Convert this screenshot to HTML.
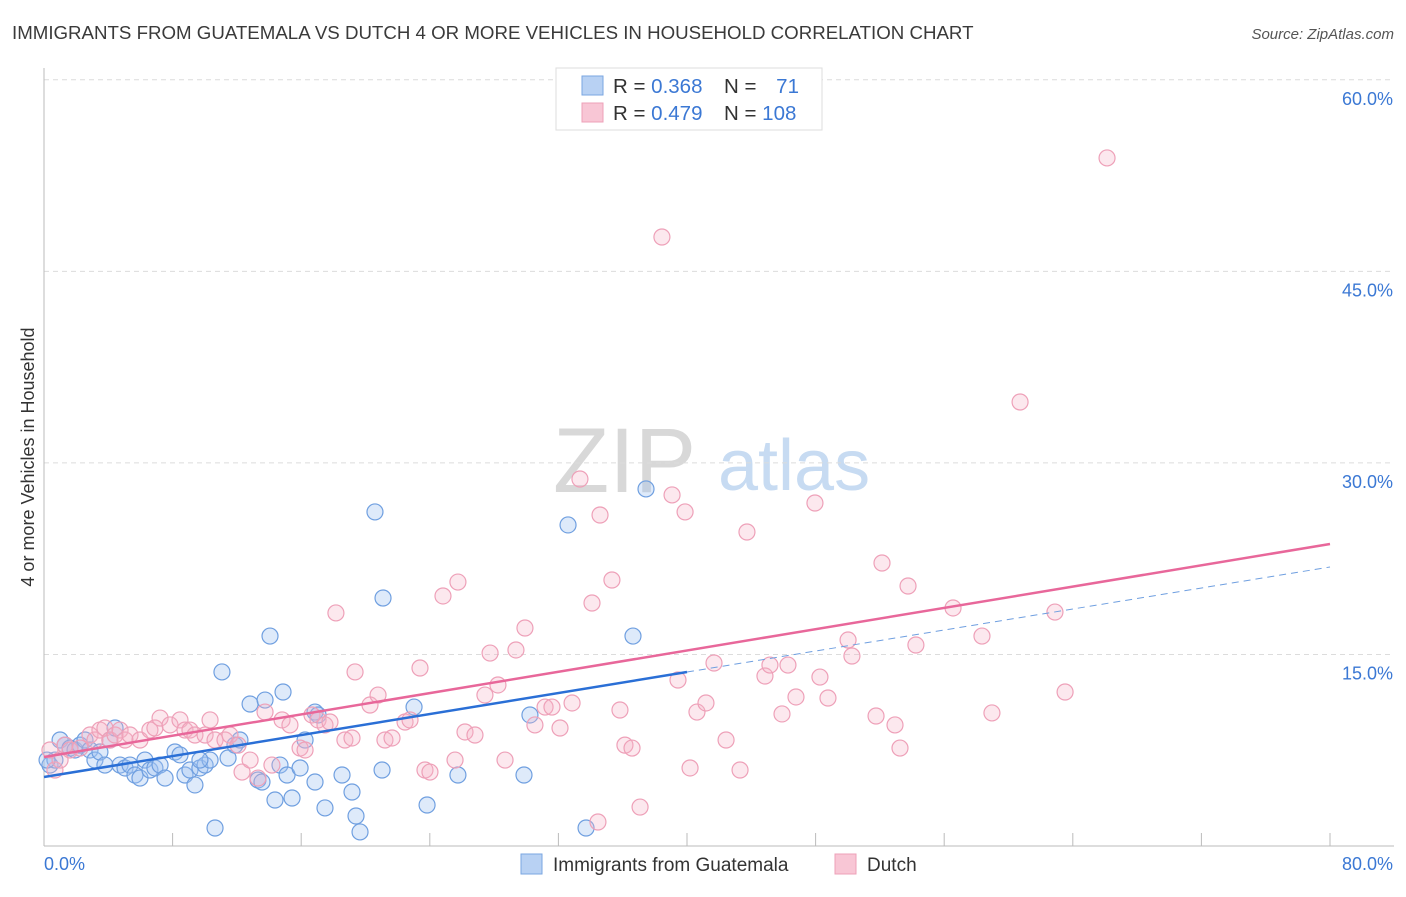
<!DOCTYPE html>
<html><head><meta charset="utf-8"><style>
body{margin:0;background:#fff;font-family:"Liberation Sans",sans-serif}
svg text{font-family:"Liberation Sans",sans-serif}
</style></head><body>
<svg id="chart" width="1406" height="892" xmlns="http://www.w3.org/2000/svg">
<text x="12" y="39" font-size="18.7" fill="#3a3a3a">IMMIGRANTS FROM GUATEMALA VS DUTCH 4 OR MORE VEHICLES IN HOUSEHOLD CORRELATION CHART</text>
<text x="1394" y="39" font-size="15" fill="#555" font-style="italic" text-anchor="end">Source: ZipAtlas.com</text>
<g>
<text x="553" y="492" font-size="92" fill="#d8d8d8" font-family="Liberation Serif">ZIP</text>
<text x="718" y="490" font-size="72" fill="#c7dbf2">atlas</text>
</g>
<g id="grid"></g>
<g id="axes"></g>
<g id="marks"></g>
<g id="lines"></g>
<text transform="translate(34,457) rotate(-90)" font-size="18" fill="#333" text-anchor="middle">4 or more Vehicles in Household</text>
<g>
<rect x="556" y="68" width="266" height="62" fill="#fff" stroke="#ddd"/>
<rect x="582" y="76" width="21" height="19" fill="#b8d1f3" stroke="#7aa6e0"/>
<rect x="582" y="103" width="21" height="19" fill="#f8c6d5" stroke="#eea0b8"/>
<text x="613" y="93" font-size="20.5" fill="#333">R = <tspan fill="#3b78d4">0.368</tspan></text>
<text x="724" y="93" font-size="20.5" fill="#333">N = <tspan fill="#3b78d4" dx="14">71</tspan></text>
<text x="613" y="120" font-size="20.5" fill="#333">R = <tspan fill="#3b78d4">0.479</tspan></text>
<text x="724" y="120" font-size="20.5" fill="#333">N = <tspan fill="#3b78d4">108</tspan></text>
</g>
<g>
<rect x="521" y="854" width="21" height="20" fill="#b8d1f3" stroke="#7aa6e0"/>
<text x="553" y="871" font-size="19" fill="#333">Immigrants from Guatemala</text>
<rect x="835" y="854" width="21" height="20" fill="#f8c6d5" stroke="#eea0b8"/>
<text x="867" y="871" font-size="19" fill="#333">Dutch</text>
</g>
</svg>
<script>
const yTicks=[15,30,45,60];
const yTickLabels=["15.0%","30.0%","45.0%","60.0%"];
const xTicks=[0,8,16,24,32,40,48,56,64,72,80];
const xEndLabels=["0.0%","80.0%"];
const blueX=[0.37,0.68,1.0,1.31,1.62,1.93,2.24,2.55,2.86,3.17,3.48,3.79,4.1,4.42,4.73,5.04,5.35,5.66,5.97,6.28,6.59,6.9,7.22,7.53,8.15,8.46,8.77,9.08,9.39,9.7,10.02,10.33,10.64,11.07,11.45,11.88,12.19,12.82,13.31,13.56,13.75,14.06,14.37,14.68,14.87,15.12,15.43,15.93,16.24,16.86,17.05,17.48,18.54,19.16,19.41,19.66,20.59,21.03,21.09,23.02,23.83,25.75,29.86,30.23,32.6,33.72,36.64,37.45,16.86,9.7,0.19];
const blueY=[6.34,6.73,8.3,7.9,7.67,7.52,7.9,8.3,7.52,6.73,7.36,6.34,8.3,9.24,6.34,6.11,6.34,5.56,5.32,6.73,5.95,6.11,6.34,5.32,7.36,7.13,5.56,5.95,4.78,6.11,6.34,6.73,1.41,13.63,6.89,7.9,8.3,11.12,5.17,5.01,11.43,16.44,3.6,6.34,12.06,5.56,3.76,6.11,8.3,10.49,10.26,2.98,5.56,4.23,2.35,1.1,26.16,5.95,19.42,10.88,3.21,5.56,5.56,10.26,25.14,1.41,16.44,27.96,5.01,6.73,6.73];
const pinkX=[0.37,0.68,1.0,1.31,1.62,2.24,2.86,3.17,3.48,3.79,4.1,4.42,4.73,5.04,5.35,5.97,6.59,6.9,7.22,7.84,8.46,8.77,9.08,9.39,10.02,10.33,10.64,11.26,11.57,12.07,12.32,12.82,13.31,13.75,14.18,14.81,15.3,15.93,16.24,16.67,17.05,17.48,17.79,18.16,18.72,19.16,19.35,20.28,20.78,21.21,21.65,22.46,22.77,23.39,23.7,24.01,24.82,25.57,25.75,26.19,26.81,27.43,27.75,28.24,28.68,29.36,29.92,30.54,31.17,31.6,32.1,32.85,33.34,34.09,34.59,35.33,35.83,36.14,36.58,37.08,34.46,38.44,39.07,39.44,39.88,40.19,40.62,41.18,41.68,42.43,43.3,43.73,44.85,45.16,45.91,46.28,46.78,47.96,48.27,48.77,50.02,50.26,51.76,52.13,52.94,53.25,53.75,54.24,56.55,58.35,58.97,60.72,62.89,63.52,66.13];
const pinkY=[7.52,5.95,6.73,7.9,7.52,7.67,8.69,8.3,9.08,9.24,8.3,8.69,9.08,8.3,8.69,8.3,9.08,9.24,10.02,9.48,9.87,9.08,9.08,8.69,8.69,9.87,8.3,8.3,8.69,7.9,5.79,6.73,5.32,10.49,6.34,9.87,9.48,7.67,7.52,10.26,9.87,9.48,9.71,18.25,8.3,8.46,13.63,11.04,11.82,8.3,8.46,9.71,9.87,13.94,5.95,5.79,19.58,6.73,20.67,8.93,8.69,11.82,15.11,12.61,6.73,15.35,17.07,9.48,10.88,10.88,9.24,11.2,28.74,19.03,25.92,20.83,10.65,7.9,7.67,3.05,1.88,47.69,27.49,13.0,26.16,6.11,10.49,11.2,14.33,8.3,5.95,24.59,13.31,14.17,10.34,14.17,11.67,26.86,13.23,11.59,16.13,14.88,10.18,22.16,9.48,7.67,20.36,15.74,18.64,16.44,10.42,34.77,18.32,12.06,53.88];
const blueFit=[5.4,0.2056];
const pinkFit=[6.97,0.2085];
const blueSolidEnd=40;

const NS="http://www.w3.org/2000/svg";
const X0=44,X1=1330,Y0=846,YP=12.77;
function sx(v){return X0+(v/80)*(X1-X0);}
function sy(v){return Y0-v*YP;}
function mk(tag,attrs,parent){const e=document.createElementNS(NS,tag);for(const k in attrs)e.setAttribute(k,attrs[k]);parent.appendChild(e);return e;}
const grid=document.getElementById('grid'),axes=document.getElementById('axes'),marks=document.getElementById('marks'),lines=document.getElementById('lines');
yTicks.forEach((t,i)=>{
 const l=mk('line',{x1:44,x2:1394,y1:sy(t),y2:sy(t),stroke:'#dcdcdc','stroke-dasharray':'5,4'},grid);
 
 
 const tx=mk('text',{x:1393,y:sy(t)+25,'font-size':18,fill:'#3b78d4','text-anchor':'end'},axes);
 tx.textContent=yTickLabels[i];
 
 
});
const ya=mk('line',{x1:44,x2:44,y1:68,y2:846,stroke:'#bbb'},axes);


const xa=mk('line',{x1:44,x2:1394,y1:846,y2:846,stroke:'#bbb'},axes);


xTicks.forEach(t=>{
 const l=mk('line',{x1:sx(t),x2:sx(t),y1:846,y2:833,stroke:'#bbb'},axes);
 
 
});
[[0,'start',44],[80,'end',1393]].forEach((d,i)=>{
 const tx=mk('text',{x:d[2],y:870,'font-size':18,fill:'#3b78d4','text-anchor':d[1]},axes);
 tx.textContent=xEndLabels[i];
 
 
});
function dots(xs,ys,fill,stroke,name){xs.forEach((x,i)=>{
 const c=mk('circle',{cx:sx(x),cy:sy(ys[i]),r:8,fill:fill,stroke:stroke,'stroke-width':1.2},marks);
 
 
});}
dots(blueX,blueY,'rgba(160,195,240,0.35)','#6f9fe0','guatemala-point');
dots(pinkX,pinkY,'rgba(245,180,200,0.3)','#eea0b8','dutch-point');
const bl=mk('line',{x1:sx(0),y1:sy(blueFit[0]),x2:sx(blueSolidEnd),y2:sy(blueFit[0]+blueFit[1]*blueSolidEnd),stroke:'#2a6fd6','stroke-width':2.5},lines);


const bd=mk('line',{x1:sx(blueSolidEnd),y1:sy(blueFit[0]+blueFit[1]*blueSolidEnd),x2:sx(80),y2:sy(blueFit[0]+blueFit[1]*80),stroke:'#6f9fe0','stroke-width':1,'stroke-dasharray':'7,5'},lines);


const pl=mk('line',{x1:sx(0),y1:sy(pinkFit[0]),x2:sx(80),y2:sy(pinkFit[0]+pinkFit[1]*80),stroke:'#e8679a','stroke-width':2.5},lines);


</script>
</body></html>
